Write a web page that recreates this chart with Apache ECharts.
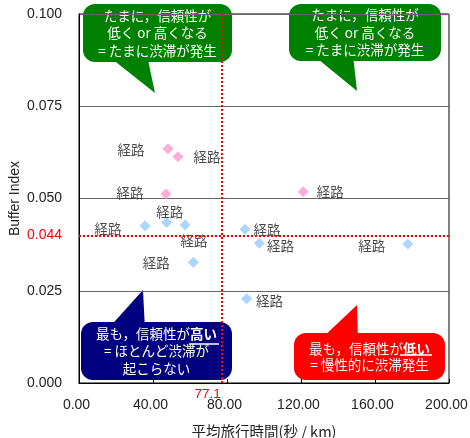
<!DOCTYPE html>
<html>
<head>
<meta charset="utf-8">
<script src="https://cdn.jsdelivr.net/npm/echarts@6/dist/echarts.min.js"></script>
<style>
  html, body { margin: 0; padding: 0; background: #fff; }
  #chart { width: 470px; height: 438px; }
</style>
</head>
<body>
<div id="chart"></div>
<script>
// 値は図から読み取り
var pinkTime   = [48.1, 53.5, 47.0, 121.2];
var pinkBuffer = [0.0635, 0.0613, 0.0512, 0.0518];
var blueTime   = [35.7, 47.4, 57.3, 61.8, 89.7, 97.5, 177.7, 90.6];
var blueBuffer = [0.0426, 0.0435, 0.0428, 0.0327, 0.0417, 0.0379, 0.0377, 0.0228];
var routeName  = '経路';
var avgTime    = 77.1;
var avgBuffer  = 0.044;

// ラベルのずらし量 (px)
var pinkOffset = [[-37, 1], [29, 0], [-36, -1], [27, 0]];
var blueOffset = [[-37, 3], [3, -11], [9, 16], [-37, 1], [22, 1], [21, 3], [-36, 2], [23, 2]];

var jp = '"Noto Sans CJK JP", sans-serif';
var num = '"Liberation Sans", Arial, sans-serif';

function makePoints(xs, ys, offs) {
  var out = [];
  for (var i = 0; i < xs.length; i++) {
    out.push({
      value: [xs[i], ys[i]],
      label: { offset: offs[i] }
    });
  }
  return out;
}

// 吹き出し
function bubble(color, box, tail, text, rich, lineH) {
  return {
    type: 'group',
    z: 100,
    children: [
      { type: 'polygon', shape: { points: tail }, style: { fill: color } },
      { type: 'rect', shape: { x: box[0], y: box[1], width: box[2], height: box[3], r: 12 }, style: { fill: color } },
      {
        type: 'text',
        x: box[0] + box[2] / 2,
        y: box[1] + box[3] / 2,
        style: {
          text: text,
          fill: '#fff',
          font: '13.5px ' + jp,
          align: 'center',
          verticalAlign: 'middle',
          lineHeight: lineH,
          rich: rich
        }
      }
    ]
  };
}

var chart = echarts.init(document.getElementById('chart'));

var boldU = { b: { fontWeight: 'bold', fill: '#fff', fontSize: 13.5, fontFamily: jp, lineHeight: 17 } };

chart.setOption({
  animation: false,
  grid: {
    left: 79, right: 21, top: 14, bottom: 55,
    outerBoundsMode: 'none', containLabel: false,
    show: true, borderColor: '#000', borderWidth: 1
  },
  xAxis: {
    type: 'value',
    min: 0, max: 200, interval: 40,
    name: '平均旅行時間(秒 / km)',
    nameLocation: 'middle',
    nameGap: 41,
    nameTextStyle: { fontFamily: jp, fontSize: 14.5, color: '#222' },
    axisLine: { show: true, lineStyle: { color: '#000' } },
    axisTick: { show: true, inside: true, length: 4, lineStyle: { color: '#000' } },
    splitLine: { show: false },
    axisLabel: {
      margin: 15, color: '#222', fontFamily: num, fontSize: 14,
      padding: [0, 5, 0, 0],
      formatter: function (v) { return v.toFixed(2); }
    }
  },
  yAxis: {
    type: 'value',
    min: 0, max: 0.1, interval: 0.025,
    name: 'Buffer Index',
    nameLocation: 'middle',
    nameGap: 57,
    nameMoveOverlap: false,
    nameTextStyle: { fontFamily: num, fontSize: 14, color: '#222' },
    axisLine: { show: true, lineStyle: { color: '#000' } },
    axisTick: { show: false },
    splitLine: { show: true, lineStyle: { color: '#666', width: 1 } },
    axisLabel: {
      margin: 17, color: '#222', fontFamily: num, fontSize: 14,
      formatter: function (v) { return v.toFixed(3); }
    }
  },
  series: [
    {
      name: 'pink',
      type: 'scatter',
      symbol: 'diamond',
      symbolSize: 11,
      itemStyle: { color: '#ff99cc' },
      label: {
        show: true, position: 'inside', formatter: routeName,
        color: '#1a1a1a', fontFamily: jp, fontSize: 13.5
      },
      data: makePoints(pinkTime, pinkBuffer, pinkOffset),
      markLine: {
        silent: true,
        symbol: 'none',
        lineStyle: { color: '#ff0000', type: 'dotted', width: 2 },
        data: [
          {
            xAxis: avgTime,
            label: {
              show: true, position: 'start', formatter: String(avgTime),
              color: '#ff0000', fontFamily: num, fontSize: 13.5,
              distance: 4, padding: [0, 28, 0, 0]
            }
          },
          {
            yAxis: avgBuffer,
            label: {
              show: true, position: 'start', formatter: avgBuffer.toFixed(3),
              color: '#ff0000', fontFamily: num, fontSize: 14,
              distance: 17
            }
          }
        ]
      }
    },
    {
      name: 'blue',
      type: 'scatter',
      symbol: 'diamond',
      symbolSize: 11,
      itemStyle: { color: '#99ccff' },
      label: {
        show: true, position: 'inside', formatter: routeName,
        color: '#1a1a1a', fontFamily: jp, fontSize: 13.5
      },
      data: makePoints(blueTime, blueBuffer, blueOffset)
    }
  ],
  graphic: [
    bubble('#008000', [83, 4, 149, 58], [[107, 55], [147, 55], [155, 93]],
      'たまに，信頼性が\n低く or 高くなる\n= たまに渋滞が発生', null, 17.5),
    bubble('#008000', [289, 4, 152, 57], [[313, 55], [353, 55], [357, 91]],
      'たまに，信頼性が\n低く or 高くなる\n= たまに渋滞が発生', null, 17.5),
    bubble('#000080', [81, 322, 151, 58], [[107, 330], [145, 330], [143, 290]],
      '最も，信頼性が{b|高い}\n= ほとんど渋滞が\n起こらない', boldU, 17.5),
    bubble('#ff0000', [294, 333, 151, 47], [[320, 340], [358, 340], [357, 305]],
      '最も，信頼性が{b|低い}\n= 慢性的に渋滞発生', boldU, 16),
    { type: 'line', z: 101, shape: { x1: 189, y1: 344, x2: 219, y2: 344 }, style: { stroke: '#fff', lineWidth: 1.5 } },
    { type: 'line', z: 101, shape: { x1: 400, y1: 355, x2: 432, y2: 355 }, style: { stroke: '#fff', lineWidth: 1.5 } }
  ]
});
</script>
</body>
</html>
